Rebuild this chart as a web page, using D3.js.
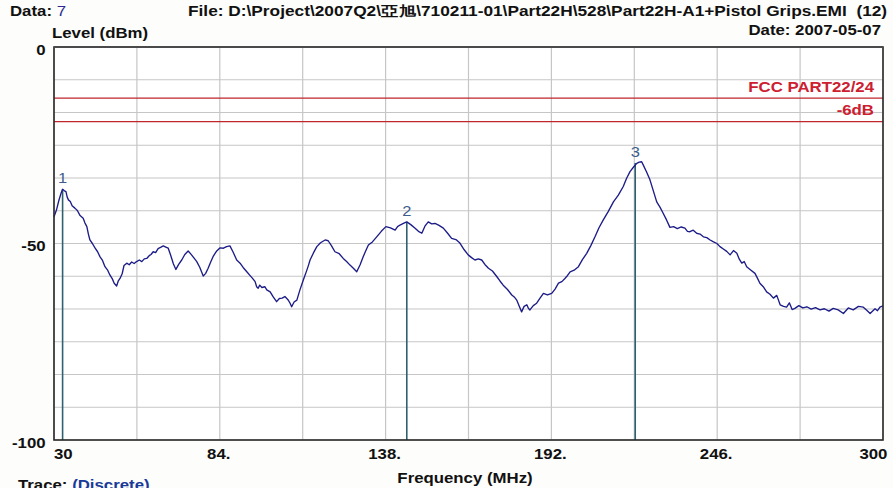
<!DOCTYPE html>
<html>
<head>
<meta charset="utf-8">
<script src="https://cdn.jsdelivr.net/npm/d3@7"></script>
<style>
  html, body { margin: 0; padding: 0; background: #fdfdfb; }
  svg { display: block; }
  text { font-family: "Liberation Sans", Arial, sans-serif; white-space: pre; }
</style>
</head>
<body>
<svg id="chart" width="893" height="488"></svg>
<script>
// Emission scan trace: frequency (MHz) and measured level (dBm)
const traceFreq = [
  30.0, 30.8, 31.6, 32.3, 32.8, 33.4, 33.9, 34.3, 34.7, 35.3, 35.9, 36.8, 37.6, 38.5, 39.5, 40.1,
  40.7, 41.2, 41.7, 42.5, 43.4, 44.2, 45.0, 45.8, 46.6, 47.4, 48.2, 49.0, 49.6, 50.4, 50.9, 51.5,
  52.2, 52.8, 53.7, 54.5, 55.3, 56.1, 56.9, 57.8, 58.6, 59.4, 60.2, 61.0, 61.6, 62.3, 63.1, 63.9,
  64.7, 65.6, 66.4, 67.2, 68.0, 68.9, 69.7, 70.6, 71.6, 72.6, 73.7, 74.6, 75.5, 76.5, 77.5, 78.6,
  79.4, 80.2, 81.0, 81.9, 83.0, 84.1, 85.2, 86.2, 87.3, 88.4, 89.5, 90.6, 91.6, 92.8, 93.8, 94.6,
  95.5, 96.0, 96.5, 97.0, 97.7, 98.7, 99.3, 100.4, 101.4, 102.5, 103.4, 104.3, 105.2, 106.2, 106.9, 107.4,
  108.2, 109.1, 110.1, 111.2, 112.3, 112.9, 113.4, 114.5, 115.6, 116.8, 118.3, 119.3, 120.4, 121.5, 122.9, 124.2,
  125.3, 126.4, 127.5, 128.6, 129.7, 130.7, 131.5, 132.4, 133.7, 135.1, 136.6, 138.1, 139.6, 141.1, 141.9, 142.7,
  143.8, 144.9, 146.2, 147.6, 148.7, 149.8, 150.8, 151.9, 153.0, 154.1, 155.4, 156.8, 158.2, 159.5, 160.9, 162.2,
  163.6, 164.9, 166.0, 167.1, 168.2, 169.3, 170.4, 171.5, 172.8, 174.2, 175.3, 176.3, 177.7, 179.1, 179.9, 180.7,
  181.5, 182.3, 183.1, 184.0, 184.5, 185.0, 186.1, 187.2, 188.3, 189.4, 190.7, 192.1, 193.2, 194.3, 195.4, 196.4,
  197.2, 198.1, 199.4, 200.8, 202.1, 203.5, 204.8, 206.2, 207.5, 208.9, 210.5, 212.2, 213.8, 215.4, 216.5, 217.6,
  218.7, 219.8, 220.6, 221.4, 221.9, 223.0, 224.1, 225.2, 226.3, 227.4, 228.4, 229.5, 230.6, 231.8, 233.0, 234.3,
  235.5, 236.3, 237.1, 238.2, 239.3, 240.4, 241.5, 242.6, 243.7, 244.8, 245.9, 246.9, 248.0, 249.1, 250.2, 251.3,
  252.4, 253.2, 254.0, 254.8, 255.6, 257.0, 258.3, 259.1, 259.9, 261.0, 262.1, 263.2, 264.3, 265.4, 266.5, 267.6,
  268.6, 269.5, 270.4, 271.3, 272.6, 273.9, 275.2, 276.6, 278.0, 279.5, 280.9, 282.4, 283.8, 285.4, 287.1, 288.7,
  290.3, 292.0, 293.6, 294.7, 295.8, 297.4, 298.2, 299.0, 300.0
];
const traceLevel = [
  -43.2, -41.5, -39.0, -37.2, -36.2, -36.6, -36.8, -38.2, -38.9, -39.3, -40.4, -41.0, -41.6, -42.9, -43.6, -44.8,
  -45.7, -47.6, -49.1, -50.0, -51.2, -52.1, -53.4, -54.3, -55.9, -56.7, -58.0, -59.0, -60.1, -60.8, -59.6, -58.9,
  -57.7, -55.6, -55.0, -55.4, -54.7, -55.1, -54.6, -54.2, -54.6, -53.9, -53.8, -53.1, -52.8, -52.1, -52.3, -51.3,
  -51.0, -50.6, -50.9, -51.2, -53.0, -55.2, -56.6, -55.3, -54.2, -52.8, -51.9, -52.7, -53.6, -54.6, -56.1, -58.3,
  -57.6, -56.3, -54.8, -53.2, -51.9, -51.1, -51.2, -50.8, -50.6, -52.3, -54.2, -55.0, -56.1, -57.2, -58.1, -58.8,
  -59.7, -61.0, -61.4, -60.6, -61.2, -61.0, -61.8, -62.3, -63.6, -64.8, -64.0, -63.9, -63.5, -64.3, -65.2, -66.1,
  -64.9, -64.4, -61.8, -59.3, -56.9, -55.5, -54.2, -52.4, -50.8, -49.8, -49.1, -49.3, -50.6, -52.1, -52.6, -53.8,
  -54.6, -55.5, -56.3, -57.2, -55.4, -53.4, -51.9, -50.4, -49.6, -48.3, -46.9, -45.7, -46.0, -46.6, -45.7, -45.3,
  -44.9, -44.5, -45.2, -46.1, -46.9, -47.4, -45.6, -44.5, -45.0, -44.9, -45.4, -46.1, -47.4, -48.7, -49.0, -49.9,
  -51.6, -52.9, -53.6, -54.2, -53.9, -54.2, -55.4, -56.3, -57.0, -58.4, -59.6, -60.6, -61.7, -63.1, -63.6, -64.4,
  -65.9, -67.4, -66.0, -65.6, -66.5, -66.9, -65.8, -65.2, -63.9, -62.7, -63.1, -62.7, -61.6, -60.1, -59.7, -58.9,
  -58.2, -57.2, -56.8, -55.9, -54.1, -52.5, -50.6, -48.3, -46.0, -44.0, -41.9, -39.4, -37.7, -35.5, -33.4, -31.7,
  -30.6, -29.6, -29.3, -29.2, -30.0, -31.8, -33.8, -36.6, -39.4, -40.8, -42.3, -44.0, -45.9, -45.7, -46.2, -45.8,
  -46.1, -46.9, -47.0, -46.6, -47.4, -47.6, -48.3, -48.5, -49.1, -49.6, -50.0, -50.8, -51.4, -52.0, -52.9, -51.8,
  -52.5, -54.0, -55.0, -54.6, -55.9, -56.8, -57.6, -58.8, -60.1, -61.0, -62.3, -62.9, -63.9, -63.2, -65.6, -66.0,
  -66.2, -65.1, -66.8, -66.5, -65.8, -66.4, -66.1, -66.7, -66.3, -66.9, -66.6, -67.2, -66.5, -66.9, -67.8, -66.4,
  -66.9, -66.0, -66.2, -67.0, -67.8, -66.6, -67.1, -66.2, -65.9
];

// Peak markers
const markerLabels = ["1", "2", "3"];
const markerFreq = [32.8, 144.9, 219.3];
const markerLevel = [-36.2, -44.5, -29.5];

// Limit lines (dBm)
const limitNames = ["FCC PART22/24", "-6dB"];
const limitLevels = [-13, -19];

// Axis ticks
const xTickValues = [30, 84, 138, 192, 246, 300];
const xTickLabels = ["30", "84.", "138.", "192.", "246.", "300"];
const yTickValues = [0, -50, -100];
const yTickLabels = ["0", "-50", "-100"];
const xGridValues = [30, 57, 84, 111, 138, 165, 192, 219, 246, 273, 300];
const yGridDivisions = 12;

const titleText = "File: D:\\Project\\2007Q2\\亞旭\\710211-01\\Part22H\\528\\Part22H-A1+Pistol Grips.EMI  (12)";
const dateText = "Date: 2007-05-07";
const dataNo = "7";
const traceMode = "(Discrete)";

(function draw() {
  const svg = d3.select("#chart");
  const pLeft = 54, pRight = 883, pTop = 47, pBottom = 440;
  const SX = 1.2;            // horizontal glyph stretch used by this report style
  const INK = "#111";

  const x = d3.scaleLinear().domain([30, 300]).range([pLeft, pRight]);
  const y = d3.scaleLinear().domain([-100, 0]).range([pBottom, pTop]);

  // place a text at (px, py) with horizontally stretched glyphs
  function label(px, py, sx) {
    return svg.append("text")
      .attr("transform", `translate(${px},${py}) scale(${sx},1)`)
      .attr("font-size", 14).attr("font-weight", "bold").attr("fill", INK);
  }

  // plot background
  svg.append("rect").attr("x", pLeft).attr("y", pTop)
    .attr("width", pRight - pLeft).attr("height", pBottom - pTop).attr("fill", "#ffffff");

  // grid
  const yGridValues = d3.range(0, yGridDivisions + 1).map(i => -i * 100 / yGridDivisions);
  svg.append("g").selectAll("line").data(xGridValues).join("line")
    .attr("x1", d => x(d)).attr("x2", d => x(d))
    .attr("y1", pTop).attr("y2", pBottom)
    .attr("stroke", "#c6c6c6").attr("stroke-width", 1.2);
  svg.append("g").selectAll("line").data(yGridValues).join("line")
    .attr("x1", pLeft).attr("x2", pRight)
    .attr("y1", d => y(d)).attr("y2", d => y(d))
    .attr("stroke", "#c6c6c6").attr("stroke-width", 1.2);

  // limit lines
  svg.append("g").selectAll("line").data(limitLevels).join("line")
    .attr("x1", pLeft).attr("x2", pRight)
    .attr("y1", d => y(d)).attr("y2", d => y(d))
    .attr("stroke", "#c0262c").attr("stroke-width", 1.4);
  limitNames.forEach((name, i) => {
    label(pRight - 9, y(limitLevels[i]) - 6.5, SX)
      .attr("text-anchor", "end").attr("fill", "#cc2030").text(name);
  });

  // marker lines
  svg.append("g").selectAll("line").data(markerFreq).join("line")
    .attr("x1", d => x(d)).attr("x2", d => x(d))
    .attr("y1", (d, i) => y(markerLevel[i])).attr("y2", pBottom)
    .attr("stroke", "#2f6070").attr("stroke-width", 1.6);

  // trace
  const pts = traceFreq.map((f, i) => [f, traceLevel[i]]);
  svg.append("path").datum(pts)
    .attr("fill", "none").attr("stroke", "#1c1c88").attr("stroke-width", 1.35)
    .attr("stroke-linejoin", "round")
    .attr("d", d3.line().x(d => x(d[0])).y(d => y(d[1])));

  // marker labels
  markerLabels.forEach((m, i) => {
    label(x(markerFreq[i]), y(markerLevel[i]) - 6, 1.1)
      .attr("font-weight", "normal").attr("font-size", 15)
      .attr("text-anchor", "middle").attr("fill", "#3d5d8c").text(m);
  });

  // frame
  svg.append("rect").attr("x", pLeft).attr("y", pTop)
    .attr("width", pRight - pLeft).attr("height", pBottom - pTop)
    .attr("fill", "none").attr("stroke", "#2a2a2a").attr("stroke-width", 1.6);
  svg.append("line").attr("x1", pLeft).attr("x2", pRight).attr("y1", pTop).attr("y2", pTop)
    .attr("stroke", "#4a4a4a").attr("stroke-width", 2.2);

  // axes
  const last = xTickValues.length - 1;
  const xAxis = d3.axisBottom(x).tickValues(xTickValues)
    .tickFormat((d, i) => xTickLabels[i]).tickSize(0).tickPadding(9);
  const gx = svg.append("g").attr("transform", `translate(0,${pBottom})`).call(xAxis);
  gx.select(".domain").remove();
  gx.selectAll("text")
    .attr("font-size", 14).attr("font-weight", "bold").attr("fill", INK)
    .attr("font-family", "Liberation Sans, Arial, sans-serif")
    .attr("transform", `scale(${SX},1)`)
    .attr("text-anchor", (d, i) => i === 0 ? "start" : (i === last ? "end" : "middle"))
    .attr("dx", (d, i) => i === last ? 3.3 : (i === 0 ? -0.5 : -1.3));

  const yAxis = d3.axisLeft(y).tickValues(yTickValues)
    .tickFormat((d, i) => yTickLabels[i]).tickSize(0).tickPadding(7);
  const gy = svg.append("g").attr("transform", `translate(${pLeft},0)`).call(yAxis);
  gy.select(".domain").remove();
  gy.selectAll("text")
    .attr("font-size", 14).attr("font-weight", "bold").attr("fill", INK)
    .attr("font-family", "Liberation Sans, Arial, sans-serif")
    .attr("transform", `scale(${SX},1)`)
    .attr("dy", "0.5em");

  // header texts
  const dataLbl = label(10, 16, SX);
  dataLbl.append("tspan").text("Data: ");
  dataLbl.append("tspan").attr("font-weight", "normal").attr("fill", "#2a2a90").text(dataNo);

  label(52, 38, SX).text("Level (dBm)");

  const title = label(188, 16, 1).text(titleText);
  const tw = title.node().getComputedTextLength();
  title.attr("transform", `translate(188,16) scale(${699 / tw},1)`);

  label(881, 35, SX).attr("text-anchor", "end").text(dateText);

  label(465, 483, SX).attr("text-anchor", "middle").text("Frequency (MHz)");

  const traceLbl = label(18, 490, SX);
  traceLbl.append("tspan").text("Trace: ");
  traceLbl.append("tspan").attr("fill", "#1a3a9a").text(traceMode);
})();
</script>
</body>
</html>
